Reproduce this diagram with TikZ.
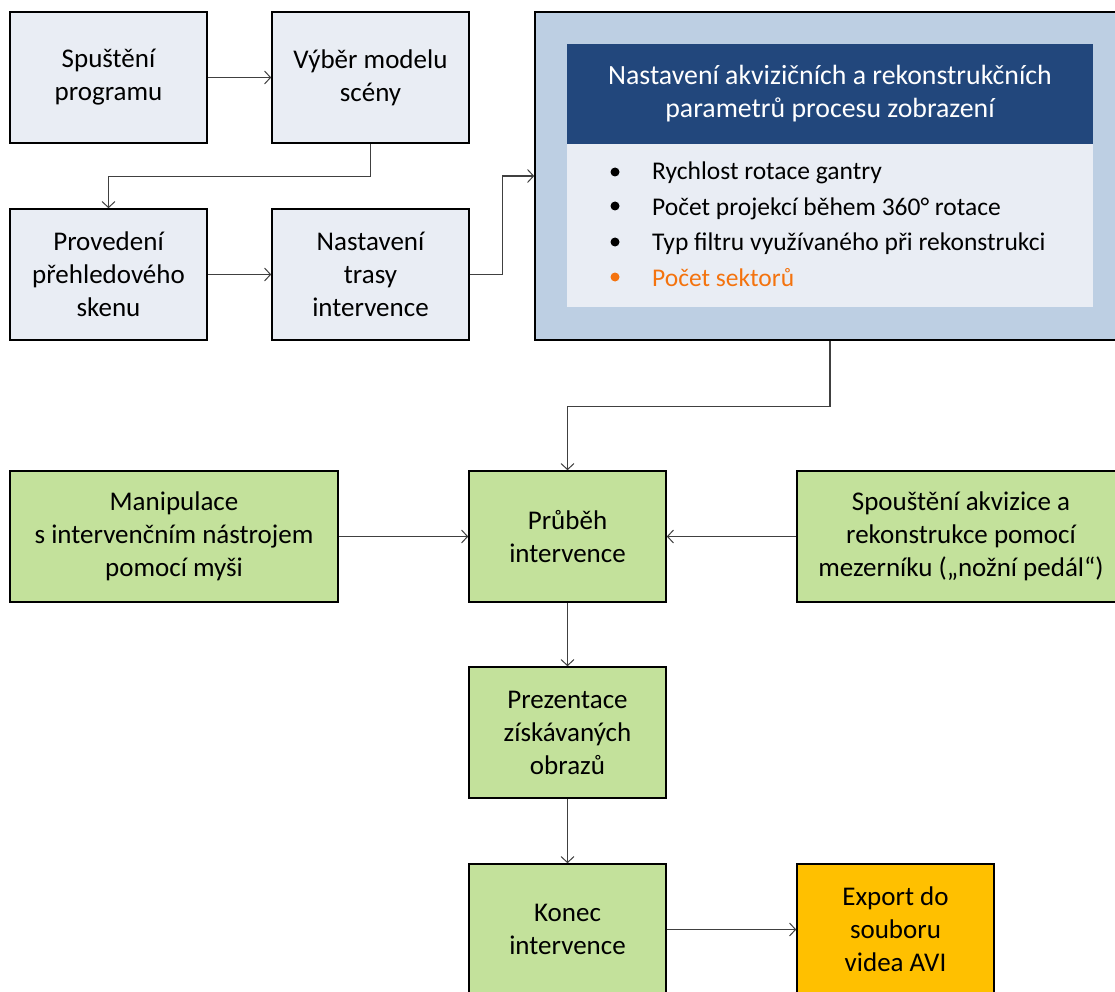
\documentclass[tikz,border=0pt]{standalone}
\usepackage{fontspec}
\setmainfont{Carlito}
\usetikzlibrary{arrows.meta}
\definecolor{boxblue}{HTML}{E9EDF4}
\definecolor{frameblue}{HTML}{BDCFE3}
\definecolor{headblue}{HTML}{22477C}
\definecolor{boxgreen}{HTML}{C3E19B}
\definecolor{boxgold}{HTML}{FFC000}
\definecolor{accent}{HTML}{F4730E}
\definecolor{linegray}{HTML}{404040}
% fixed line height for the first line of every text block
\newcommand\lnstrut{\rule{0pt}{34.4pt}}
\newcommand\hdstrut{\rule{0pt}{31.4pt}}
\begin{document}
\begin{tikzpicture}[x=1pt,y=-1pt,
  font=\fontsize{27}{33}\selectfont,
  lines/.style={align=center,execute at begin node=\lnstrut},
  headlines/.style={align=center,execute at begin node=\hdstrut},
  stepbox/.style={draw=black,line width=1.6pt,minimum width=197pt,minimum height=131pt,
    lines,inner sep=0pt},
  bluebox/.style={stepbox,fill=boxblue},
  greenbox/.style={stepbox,fill=boxgreen},
  goldbox/.style={stepbox,fill=boxgold},
  widebox/.style={minimum width=328pt},
  link/.style={draw=linegray,line width=1.1pt,-{Straight Barb[length=6pt,width=13pt,line width=1pt]}},
  item/.style={anchor=base west,inner sep=0pt,font=\fontsize{25.5}{30}\selectfont},
  dot/.style={circle,fill=black,inner sep=0pt,minimum size=9pt}]
\useasboundingbox (0,0) rectangle (1115,992);

% first stage: preparing the scene
\node[bluebox] (start) at (108.5,77.5) {Spuštění\\programu};
\node[bluebox] (model) at (370.5,77.5) {Výběr modelu\\scény};
\node[bluebox] (scan) at (108.5,274.5) {Provedení\\přehledového\\skenu};
\node[bluebox] (route) at (370.5,274.5) {Nastavení\\trasy\\intervence};

% acquisition and reconstruction settings panel
\node[draw=black,line width=1.6pt,fill=frameblue,minimum width=590pt,minimum height=328pt,inner sep=0pt]
  (params) at (830,176) {};
\node[fill=headblue,text=white,minimum width=526pt,minimum height=100pt,inner sep=0pt,headlines,
  font=\fontsize{27.8}{33}\selectfont]
  (head) at (830,94) {Nastavení akvizičních a rekonstrukčních\\parametrů procesu zobrazení};
\node[fill=boxblue,minimum width=526pt,minimum height=163pt,inner sep=0pt] (body) at (830,225.5) {};
\node[dot] (d1) at (615,172) {};
\node[dot] (d2) at (615,206) {};
\node[dot] (d3) at (615,242) {};
\node[dot,fill=accent] (d4) at (615,277) {};
\node[item] (i1) at (652,180) {Rychlost rotace gantry};
\node[item] (i2) at (652,215) {Počet projekcí během 360° rotace};
\node[item] (i3) at (652,251) {Typ filtru využívaného při rekonstrukci};
\node[item,text=accent] (i4) at (652,286) {Počet sektorů};

% second stage: the intervention itself
\node[greenbox] (run) at (567.5,536.5) {Průběh\\intervence};
\node[greenbox,widebox] (mouse) at (174,536.5) {Manipulace\\s intervenčním nástrojem\\pomocí myši};
\node[greenbox,widebox] (pedal) at (961,536.5) {Spouštění akvizice a\\rekonstrukce pomocí\\mezerníku („nožní pedál“)};
\node[greenbox] (show) at (567.5,732.5) {Prezentace\\získávaných\\obrazů};
\node[greenbox] (stop) at (567.5,929.5) {Konec\\intervence};
\node[goldbox] (export) at (895.5,929.5) {Export do\\souboru\\videa AVI};

% connectors
\draw[link] (start) -- (model);
\draw[link] (model.south) -- ++(0,33) -| (scan.north);
\draw[link] (scan) -- (route);
\draw[link] (route.east) -- ++(33,0) |- (params.west);
\draw[link] (params.south) -- ++(0,66) -| (run.north);
\draw[link] (mouse) -- (run);
\draw[link] (pedal) -- (run);
\draw[link] (run) -- (show);
\draw[link] (show) -- (stop);
\draw[link] (stop) -- (export);
\end{tikzpicture}
\end{document}
